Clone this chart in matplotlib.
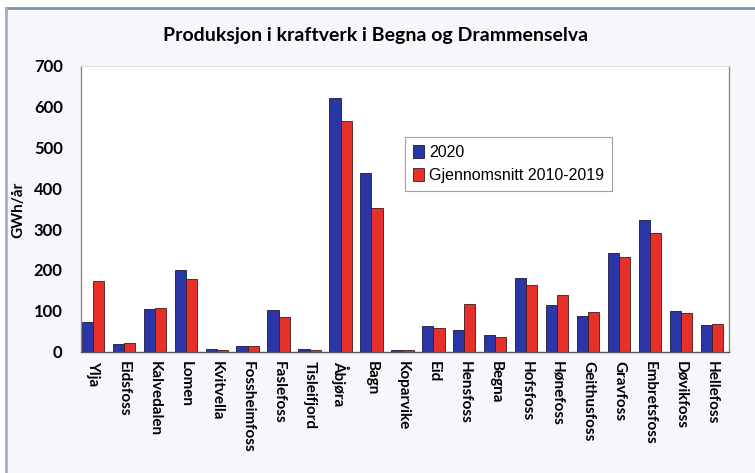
import numpy as np
import matplotlib.pyplot as plt
from matplotlib.patches import Rectangle
from matplotlib.lines import Line2D

stations = ['Ylja', 'Eidsfoss', 'Kalvedalen', 'Lomen', 'Kvitvella', 'Fossheimfoss',
            'Faslefoss', 'Tisleifjord', 'Åbjøra', 'Bagn', 'Koparvike', 'Eid',
            'Hensfoss', 'Begna', 'Hofsfoss', 'Hønefoss', 'Geithusfoss', 'Gravfoss',
            'Embretsfoss', 'Døvikfoss', 'Hellefoss']
prod_2020 = [72, 18, 104, 200, 6, 13, 102, 6, 622, 438, 3, 62,
             52, 41, 181, 115, 88, 242, 322, 100, 65]
avg_2010_2019 = [174, 21, 108, 179, 4, 13, 85, 5, 564, 351, 3, 57,
                 116, 37, 164, 139, 98, 233, 291, 94, 67]
yticks = [0, 100, 200, 300, 400, 500, 600, 700]

blue = '#2a35a6'
red = '#e8302a'

fig = plt.figure(figsize=(7.55, 4.73), dpi=100)
fig.patch.set_facecolor('white')

# light panel with a blue-grey frame line on top and left
panel = Rectangle((6 / 755, 0), 1, 1 - 8 / 473, transform=fig.transFigure,
                  facecolor='#f5f7fa', edgecolor='none', zorder=-2)
fig.patches.append(panel)
fig.add_artist(Line2D([6 / 755, 1], [1 - 8 / 473] * 2, transform=fig.transFigure,
                      color='#7d93b5', lw=2))
fig.add_artist(Line2D([6 / 755] * 2, [0, 1 - 8 / 473], transform=fig.transFigure,
                      color='#9fb0c8', lw=2))

ax = fig.add_axes([0.107, 0.2565, 0.8586, 0.6045])
ax.set_facecolor('white')

x = np.arange(len(stations))
w = 0.36
ax.bar(x - w / 2, prod_2020, w, color=blue, edgecolor='#1a1a40', linewidth=0.6,
       label='2020')
ax.bar(x + w / 2, avg_2010_2019, w, color=red, edgecolor='#401a1a', linewidth=0.6,
       label='Gjennomsnitt 2010-2019')

ax.set_xlim(-0.39, len(stations) - 1 + 0.55)
ax.set_ylim(0, 700)
ax.set_yticks(yticks)
ax.set_yticklabels([str(v) for v in yticks], fontfamily='Lato', fontweight='bold',
                   fontsize=12)
ax.set_xticks(x)
ax.set_xticklabels(stations, rotation=270, fontfamily='Lato', fontweight='bold',
                   fontsize=11, va='top', ha='center')
ax.tick_params(length=0)
ax.tick_params(axis='y', pad=13)
ax.tick_params(axis='x', pad=7)

for side in ['left', 'right']:
    ax.spines[side].set_color('#8a8a8a')
    ax.spines[side].set_linewidth(1.0)
ax.spines['top'].set_color('#e0dede')
ax.spines['bottom'].set_color('#555555')
ax.spines['bottom'].set_linewidth(1.0)

fig.text(18 / 755, 1 - 210 / 473, 'GWh/år', rotation=90, ha='center', va='center',
         fontfamily='Lato', fontweight='bold', fontsize=11)

fig.text(0.497, 0.926, 'Produksjon i kraftverk i Begna og Drammenselva',
         ha='center', va='center', fontfamily='Lato', fontweight='bold', fontsize=14)

leg = ax.legend(loc='upper left', bbox_to_anchor=(0.5, 0.752), borderaxespad=0,
                frameon=True, fancybox=False, handlelength=0.7, handleheight=0.9,
                handletextpad=0.3, borderpad=0.5, labelspacing=0.5,
                prop={'family': 'Liberation Sans', 'size': 11.5})
leg.get_frame().set_edgecolor('#8a8a8a')
leg.get_frame().set_linewidth(0.8)

fig.savefig('out.png', dpi=100, facecolor=fig.get_facecolor())
